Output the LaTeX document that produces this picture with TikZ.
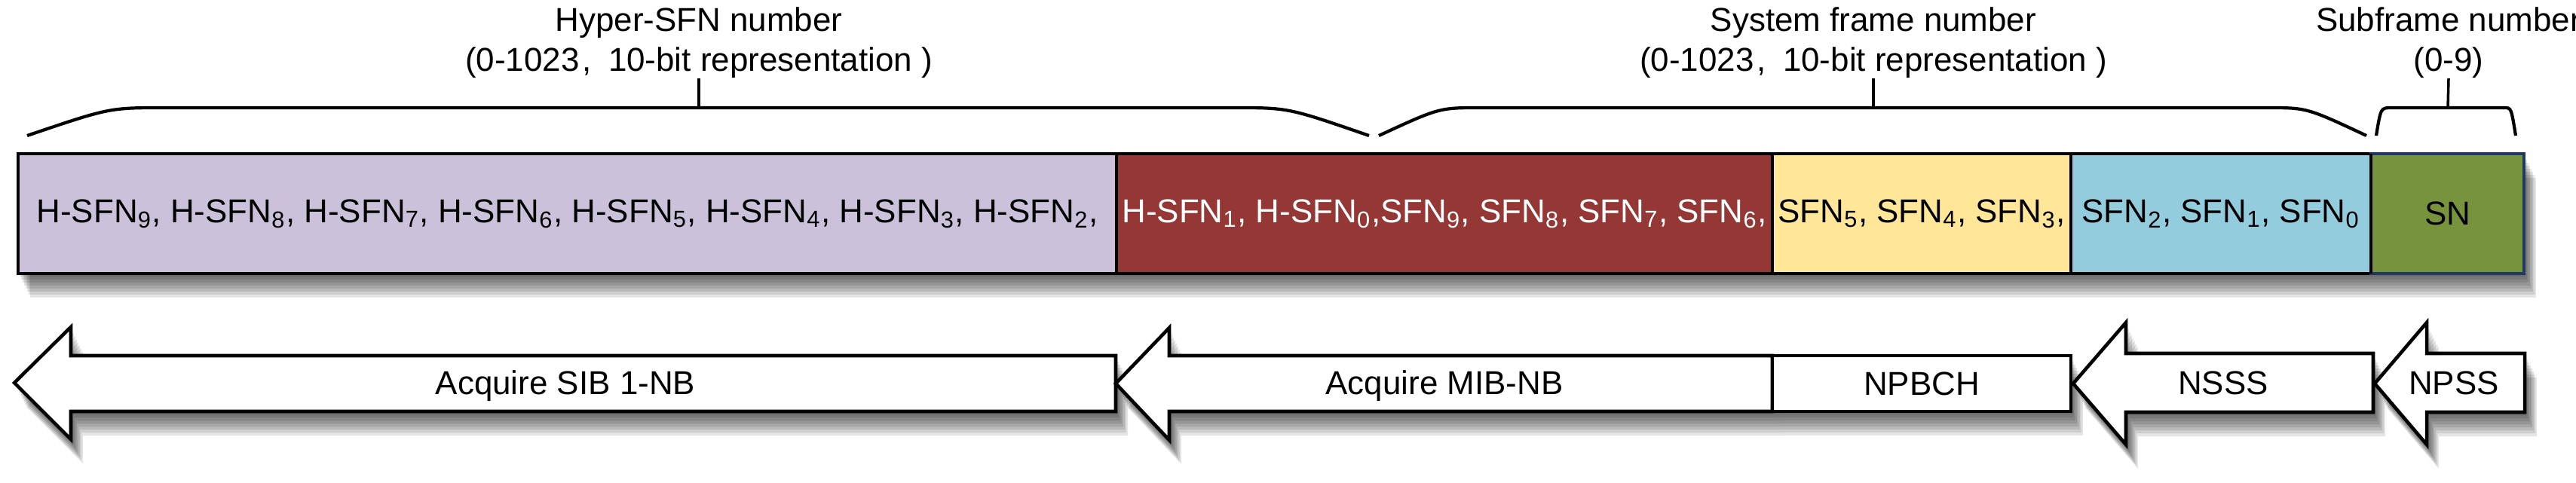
\documentclass[tikz,border=0pt]{standalone}
\usepackage{fontspec}
\setmainfont{Liberation Sans}
\usetikzlibrary{positioning,backgrounds,shadows}
\definecolor{hsfncol}{HTML}{CCC1DA}
\definecolor{mixcol}{HTML}{953735}
\definecolor{sfnhicol}{HTML}{FFE699}
\definecolor{sfnlocol}{HTML}{93CDDD}
\definecolor{sncol}{HTML}{77933C}
\definecolor{snedge}{HTML}{1F3864}
\tikzset{
  cell/.style={draw, line width=1.3pt, minimum height=1.59cm, inner sep=0pt, outer sep=0pt},
  brace/.style={line width=1.2pt},
  numlbl/.style={anchor=south, inner sep=0pt, align=center},
  steplbl/.style={anchor=base, inner sep=0pt},
  acq/.style={draw, line width=1.3pt, fill=white},
  shadowstep/.style 2 args={general shadow={fill=black, fill opacity=0.1, draw=none, shadow xshift=#1, shadow yshift=#2}},
  softshadow/.style={shadowstep={0.02cm}{-0.04cm}, shadowstep={0.04cm}{-0.08cm}, shadowstep={0.06cm}{-0.12cm},
    shadowstep={0.08cm}{-0.16cm}, shadowstep={0.10cm}{-0.20cm}, shadowstep={0.12cm}{-0.24cm}, shadowstep={0.14cm}{-0.28cm},
    shadowstep={0.16cm}{-0.32cm}},
}
\begin{document}
\begin{tikzpicture}[font=\fontsize{12.5}{15}\selectfont]
    \useasboundingbox (0,0) rectangle (34.17,6.40);
    % frame number bar
    \node[cell, fill=hsfncol, minimum width=14.57cm, anchor=north west] (hsfn) at (0.24,4.36) {H-SFN\textsubscript{9}, H-SFN\textsubscript{8}, H-SFN\textsubscript{7}, H-SFN\textsubscript{6}, H-SFN\textsubscript{5}, H-SFN\textsubscript{4}, H-SFN\textsubscript{3}, H-SFN\textsubscript{2},};
    \node[cell, fill=mixcol, text=white, minimum width=8.70cm, right=0pt of hsfn] (mix) {H-SFN\textsubscript{1}, H-SFN\textsubscript{0},SFN\textsubscript{9}, SFN\textsubscript{8}, SFN\textsubscript{7}, SFN\textsubscript{6},};
    \node[cell, fill=sfnhicol, minimum width=3.96cm, right=0pt of mix] (sfnhi) {SFN\textsubscript{5}, SFN\textsubscript{4}, SFN\textsubscript{3},};
    \node[cell, fill=sfnlocol, minimum width=3.98cm, right=0pt of sfnhi] (sfnlo) {SFN\textsubscript{2}, SFN\textsubscript{1}, SFN\textsubscript{0}};
    \node[cell, draw=snedge, fill=sncol, minimum width=2.03cm, right=0pt of sfnlo] (sn) {SN};
    \draw[line width=1.3pt] (sfnlo.north east) -- (sfnlo.south east);
    \begin{scope}[on background layer]
        \fill[white, softshadow] (hsfn.north west) rectangle (sn.south east);
    \end{scope}
    % braces
    \draw[brace] (0.36,4.60) .. controls (1.45,4.97) .. (2.17,4.97) -- (16.38,4.97) .. controls (17.09,4.97) .. (18.16,4.60);
    \draw[brace] (18.29,4.60) .. controls (19.09,4.97) .. (19.63,4.97) -- (30.08,4.97) .. controls (30.60,4.97) .. (31.39,4.60);
    \draw[brace] (31.52,4.60) .. controls (31.58,4.97) .. (31.72,4.97) -- (33.22,4.97) .. controls (33.31,4.97) .. (33.37,4.60);
    \coordinate (hsfntick) at (9.27,4.97);
    \coordinate (sfntick) at (24.85,4.97);
    \coordinate (sntick) at (32.47,4.97);
    \node[numlbl] (hsfnlbl) at (9.27,5.36) {Hyper-SFN number\\(0-1023\hspace{0.1em},\hspace{0.5em}10-bit representation )};
    \node[numlbl] (sfnlbl) at (24.85,5.36) {System frame number\\(0-1023\hspace{0.1em},\hspace{0.5em}10-bit representation )};
    \node[numlbl] (snlbl) at (32.48,5.36) {Subframe number\\(0-9)};
    \draw[line width=1pt] (hsfntick) -- (hsfnlbl.south);
    \draw[line width=1pt] (sfntick) -- (sfnlbl.south);
    \draw[line width=1pt] (sntick) -- (snlbl.south);
    % acquisition steps
    \draw[acq, softshadow] (0.19,1.32) -- (0.94,2.06) -- (0.94,1.68) -- (14.80,1.68) -- (14.80,0.94) -- (0.94,0.94) -- (0.94,0.57) -- cycle;
    \draw[acq, softshadow] (14.80,1.31) -- (15.51,2.05) -- (15.51,1.68) -- (23.51,1.68) -- (23.51,0.94) -- (15.51,0.94) -- (15.51,0.56) -- cycle;
    \node[acq, softshadow, minimum width=3.96cm, minimum height=0.74cm, inner sep=0pt, outer sep=0pt, anchor=south west] (npbch) at (23.51,0.94) {NPBCH};
    \draw[acq, softshadow] (27.50,1.31) -- (28.20,2.12) -- (28.20,1.71) -- (31.48,1.71) -- (31.48,0.93) -- (28.20,0.93) -- (28.20,0.50) -- cycle;
    \draw[acq, softshadow] (31.50,1.31) -- (32.19,2.12) -- (32.19,1.71) -- (33.49,1.71) -- (33.49,0.93) -- (32.19,0.93) -- (32.19,0.50) -- cycle;
    \node[steplbl] (sibstep) at (7.50,1.17) {Acquire SIB 1-NB};
    \node[steplbl] (mibstep) at (19.16,1.17) {Acquire MIB-NB};
    \node[steplbl] (nsssstep) at (29.49,1.17) {NSSS};
    \node[steplbl] (npssstep) at (32.55,1.17) {NPSS};
\end{tikzpicture}
\end{document}
